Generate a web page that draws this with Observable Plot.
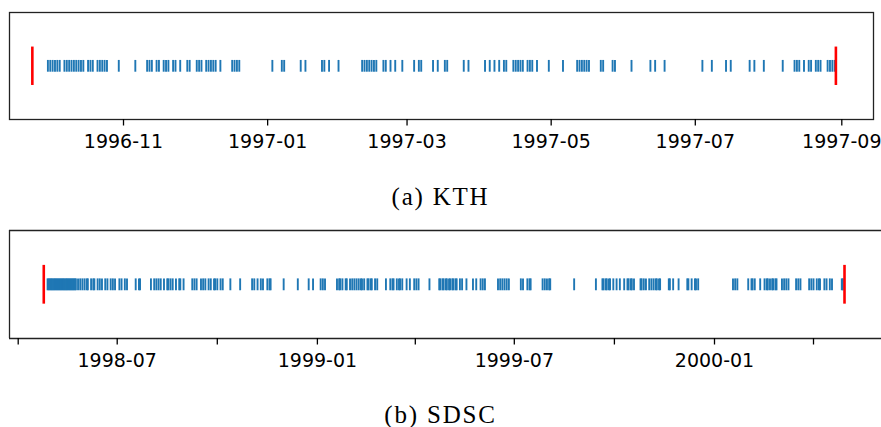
<!DOCTYPE html>
<html>
<head>
<meta charset="utf-8">
<script src="https://cdn.jsdelivr.net/npm/d3@7"></script>
<script src="https://cdn.jsdelivr.net/npm/@observablehq/plot@0.6"></script>
<style>
  html, body { margin: 0; padding: 0; background: #fff; overflow: hidden; }
  #wrap { position: relative; width: 881px; height: 427px; }
  .panel { position: absolute; left: 0; }
  .cap { position: absolute; left: 0; width: 881px; text-align: center;
         font-family: "Liberation Serif", serif; font-size: 25px; line-height: 30px;
         letter-spacing: 1.8px; color: #000; }
</style>
</head>
<body>
<div id="wrap">
  <div id="pa" class="panel" style="top:0px"></div>
  <div class="cap" style="top:182px">(a) KTH</div>
  <div id="pb" class="panel" style="top:218px"></div>
  <div class="cap" style="top:400px">(b) SDSC</div>
</div>
<script>
// ---------- data ----------
const kthTitle = "(a) KTH";
const sdscTitle = "(b) SDSC";

const kthEvents = [
  "1996-09-30","1996-10-01","1996-10-02","1996-10-03","1996-10-04","1996-10-05",
  "1996-10-07","1996-10-08","1996-10-09","1996-10-10","1996-10-11","1996-10-12","1996-10-13","1996-10-14","1996-10-15",
  "1996-10-17","1996-10-18","1996-10-19","1996-10-21","1996-10-22","1996-10-23","1996-10-24","1996-10-25","1996-10-30",
  "1996-11-06","1996-11-11","1996-11-12","1996-11-13","1996-11-15","1996-11-16","1996-11-18","1996-11-19","1996-11-20",
  "1996-11-22","1996-11-23","1996-11-25","1996-11-28","1996-11-29",
  "1996-12-02","1996-12-03","1996-12-04","1996-12-06","1996-12-07","1996-12-08","1996-12-09","1996-12-10","1996-12-12",
  "1996-12-17","1996-12-18","1996-12-19","1996-12-20",
  "1997-01-03","1997-01-07","1997-01-08","1997-01-15","1997-01-17","1997-01-24","1997-01-25","1997-01-27","1997-01-31",
  "1997-02-10","1997-02-11","1997-02-12","1997-02-13","1997-02-14","1997-02-15","1997-02-16",
  "1997-02-19","1997-02-20","1997-02-22","1997-02-24","1997-02-27",
  "1997-03-04","1997-03-06","1997-03-07","1997-03-12","1997-03-14","1997-03-17","1997-03-18","1997-03-25","1997-03-27",
  "1997-04-03","1997-04-05","1997-04-07","1997-04-09","1997-04-11","1997-04-12","1997-04-15","1997-04-16","1997-04-17",
  "1997-04-18","1997-04-19","1997-04-21","1997-04-22","1997-04-23","1997-04-25","1997-04-30",
  "1997-05-06","1997-05-12","1997-05-13","1997-05-14","1997-05-15","1997-05-16","1997-05-17","1997-05-22","1997-05-23",
  "1997-05-27","1997-05-28",
  "1997-06-04","1997-06-12","1997-06-14","1997-06-18",
  "1997-07-04","1997-07-08","1997-07-14","1997-07-16","1997-07-24","1997-07-26","1997-07-30",
  "1997-08-07","1997-08-12","1997-08-13","1997-08-14","1997-08-16","1997-08-18","1997-08-19","1997-08-21","1997-08-22",
  "1997-08-23","1997-08-26","1997-08-27","1997-08-28","1997-08-29"
];
const kthBounds = ["1996-09-23T10:00", "1997-08-29T12:00"];
const kthDomain = ["1996-09-13T18:00", "1997-09-14T10:00"];
const kthTicks = ["1996-11", "1997-01", "1997-03", "1997-05", "1997-07", "1997-09"];

const sdscEvents = [
  "1998-04-28","1998-04-29","1998-04-30","1998-05-01","1998-05-02","1998-05-03","1998-05-04","1998-05-05","1998-05-06",
  "1998-05-07","1998-05-08","1998-05-09","1998-05-10","1998-05-11","1998-05-12","1998-05-13","1998-05-14","1998-05-15",
  "1998-05-16","1998-05-17","1998-05-18","1998-05-19","1998-05-20","1998-05-21","1998-05-22","1998-05-23","1998-05-24",
  "1998-05-26","1998-05-28","1998-05-30","1998-06-01","1998-06-03","1998-06-04","1998-06-07","1998-06-09","1998-06-10",
  "1998-06-13","1998-06-15","1998-06-17","1998-06-20","1998-06-22","1998-06-25","1998-06-27","1998-06-29","1998-07-03",
  "1998-07-05","1998-07-08","1998-07-10",
  "1998-07-18","1998-07-21","1998-07-22","1998-08-01",
  "1998-08-04","1998-08-06","1998-08-08","1998-08-10","1998-08-13","1998-08-16","1998-08-17","1998-08-19","1998-08-21",
  "1998-08-24","1998-08-27","1998-08-28","1998-08-31",
  "1998-09-08","1998-09-10","1998-09-12",
  "1998-09-16","1998-09-18","1998-09-20","1998-09-23","1998-09-25","1998-09-28","1998-09-29","1998-10-01","1998-10-04","1998-10-06",
  "1998-10-13","1998-10-22",
  "1998-11-02","1998-11-04","1998-11-07","1998-11-10","1998-11-12","1998-11-16","1998-11-18","1998-11-19",
  "1998-12-01","1998-12-14","1998-12-24","1998-12-28",
  "1999-01-04","1999-01-06","1999-01-08","1999-01-19","1999-01-21","1999-01-22","1999-01-24","1999-01-27","1999-01-28","1999-01-31",
  "1999-02-02","1999-02-04","1999-02-06","1999-02-08","1999-02-10","1999-02-11","1999-02-13","1999-02-16","1999-02-17",
  "1999-02-19","1999-02-20","1999-02-23","1999-02-25",
  "1999-03-05","1999-03-09","1999-03-11","1999-03-12","1999-03-15","1999-03-17","1999-03-18","1999-03-20","1999-03-24",
  "1999-03-27","1999-03-31",
  "1999-04-02","1999-04-04","1999-04-14","1999-04-23","1999-04-24","1999-04-26","1999-04-27","1999-04-29","1999-04-30",
  "1999-05-02","1999-05-03","1999-05-05","1999-05-06","1999-05-08","1999-05-09","1999-05-12","1999-05-14","1999-05-18",
  "1999-05-24","1999-05-27","1999-05-31",
  "1999-06-02","1999-06-04","1999-06-16","1999-06-18","1999-06-20","1999-06-22","1999-06-24","1999-06-26",
  "1999-07-07","1999-07-09","1999-07-13","1999-07-15","1999-07-16","1999-07-27","1999-07-29","1999-07-31",
  "1999-08-02","1999-08-03","1999-08-25",
  "1999-09-14","1999-09-20","1999-09-21","1999-09-23","1999-09-24","1999-09-26","1999-09-27","1999-09-30",
  "1999-10-03","1999-10-06","1999-10-10","1999-10-13","1999-10-14","1999-10-16","1999-10-17","1999-10-19",
  "1999-10-25","1999-10-26","1999-10-28","1999-10-30",
  "1999-11-02","1999-11-04","1999-11-06","1999-11-08","1999-11-09","1999-11-11","1999-11-12","1999-11-20","1999-11-21",
  "1999-11-24","1999-11-29",
  "1999-12-07","1999-12-08","1999-12-11","1999-12-14","1999-12-15","1999-12-17",
  "2000-01-18","2000-01-20","2000-01-22",
  "2000-02-01","2000-02-04","2000-02-05","2000-02-07","2000-02-12",
  "2000-02-16","2000-02-18","2000-02-19","2000-02-21","2000-02-23","2000-02-24","2000-02-26","2000-02-27",
  "2000-03-03","2000-03-05","2000-03-07","2000-03-09","2000-03-16","2000-03-18","2000-03-20","2000-03-28","2000-03-30",
  "2000-04-01","2000-04-04","2000-04-06","2000-04-07","2000-04-11","2000-04-13","2000-04-16","2000-04-18",
  "2000-04-27","2000-04-28"
];
const sdscBounds = ["1998-04-24T12:00", "2000-04-29T12:00"];
const sdscDomain = ["1998-03-24T00:00", "2000-06-02T12:00"];
const sdscTicks = ["1998-04", "1998-07", "1998-10", "1999-01", "1999-04", "1999-07", "1999-10", "2000-01", "2000-04"];
const sdscTickLabels = ["1998-07", "1999-01", "1999-07", "2000-01"];

// ---------- helpers ----------
const parse = s => {
  if (s.length === 7) return new Date(s + "-01T00:00:00Z");
  if (s.length === 10) return new Date(s + "T00:00:00Z");
  return new Date(s + ":00Z");
};
const fmt = d3.utcFormat("%Y-%m");
const BLUE = "#1f77b4";
const FRAME = "#222";

const common = {
  width: 881,
  marginLeft: 9,
  marginTop: 12,
  marginBottom: 36,
  y: {domain: [0, 1], axis: null},
  style: {fontFamily: "DejaVu Sans", fontSize: "19px", color: "#000", background: "#fff", overflow: "visible"}
};

const eventMarks = (events, bounds) => [
  Plot.ruleX(events, {x: d => parse(d), y1: 0.442, y2: 0.552, stroke: BLUE, strokeWidth: 1.9}),
  Plot.ruleX(bounds, {x: d => parse(d), y1: 0.318, y2: 0.677, stroke: "red", strokeWidth: 2.6})
];

// Panel (a) KTH
const plotA = Plot.plot({
  ...common,
  height: 155,
  marginRight: 8,
  x: {type: "utc", domain: kthDomain.map(parse), axis: null},
  marks: [
    ...eventMarks(kthEvents, kthBounds),
    Plot.frame({stroke: FRAME, strokeWidth: 1.3}),
    Plot.axisX({ticks: kthTicks.map(parse), tickFormat: fmt, tickSize: 6.5, tickPadding: 8, strokeWidth: 1.3})
  ]
});
document.getElementById("pa").appendChild(plotA);

// Panel (b) SDSC — right edge of the frame lies outside the picture
const plotB = Plot.plot({
  ...common,
  height: 156,
  marginRight: 0,
  x: {type: "utc", domain: sdscDomain.map(parse), axis: null},
  marks: [
    ...eventMarks(sdscEvents, sdscBounds),
    Plot.ruleY([0, 1], {stroke: FRAME, strokeWidth: 1.3}),
    Plot.ruleX([parse(sdscDomain[0])], {stroke: FRAME, strokeWidth: 1.3}),
    Plot.axisX({
      ticks: sdscTicks.map(parse),
      tickFormat: d => sdscTickLabels.includes(fmt(d)) ? fmt(d) : "",
      tickSize: 6.5, tickPadding: 8.5, strokeWidth: 1.3
    })
  ]
});
document.getElementById("pb").appendChild(plotB);
</script>
</body>
</html>
